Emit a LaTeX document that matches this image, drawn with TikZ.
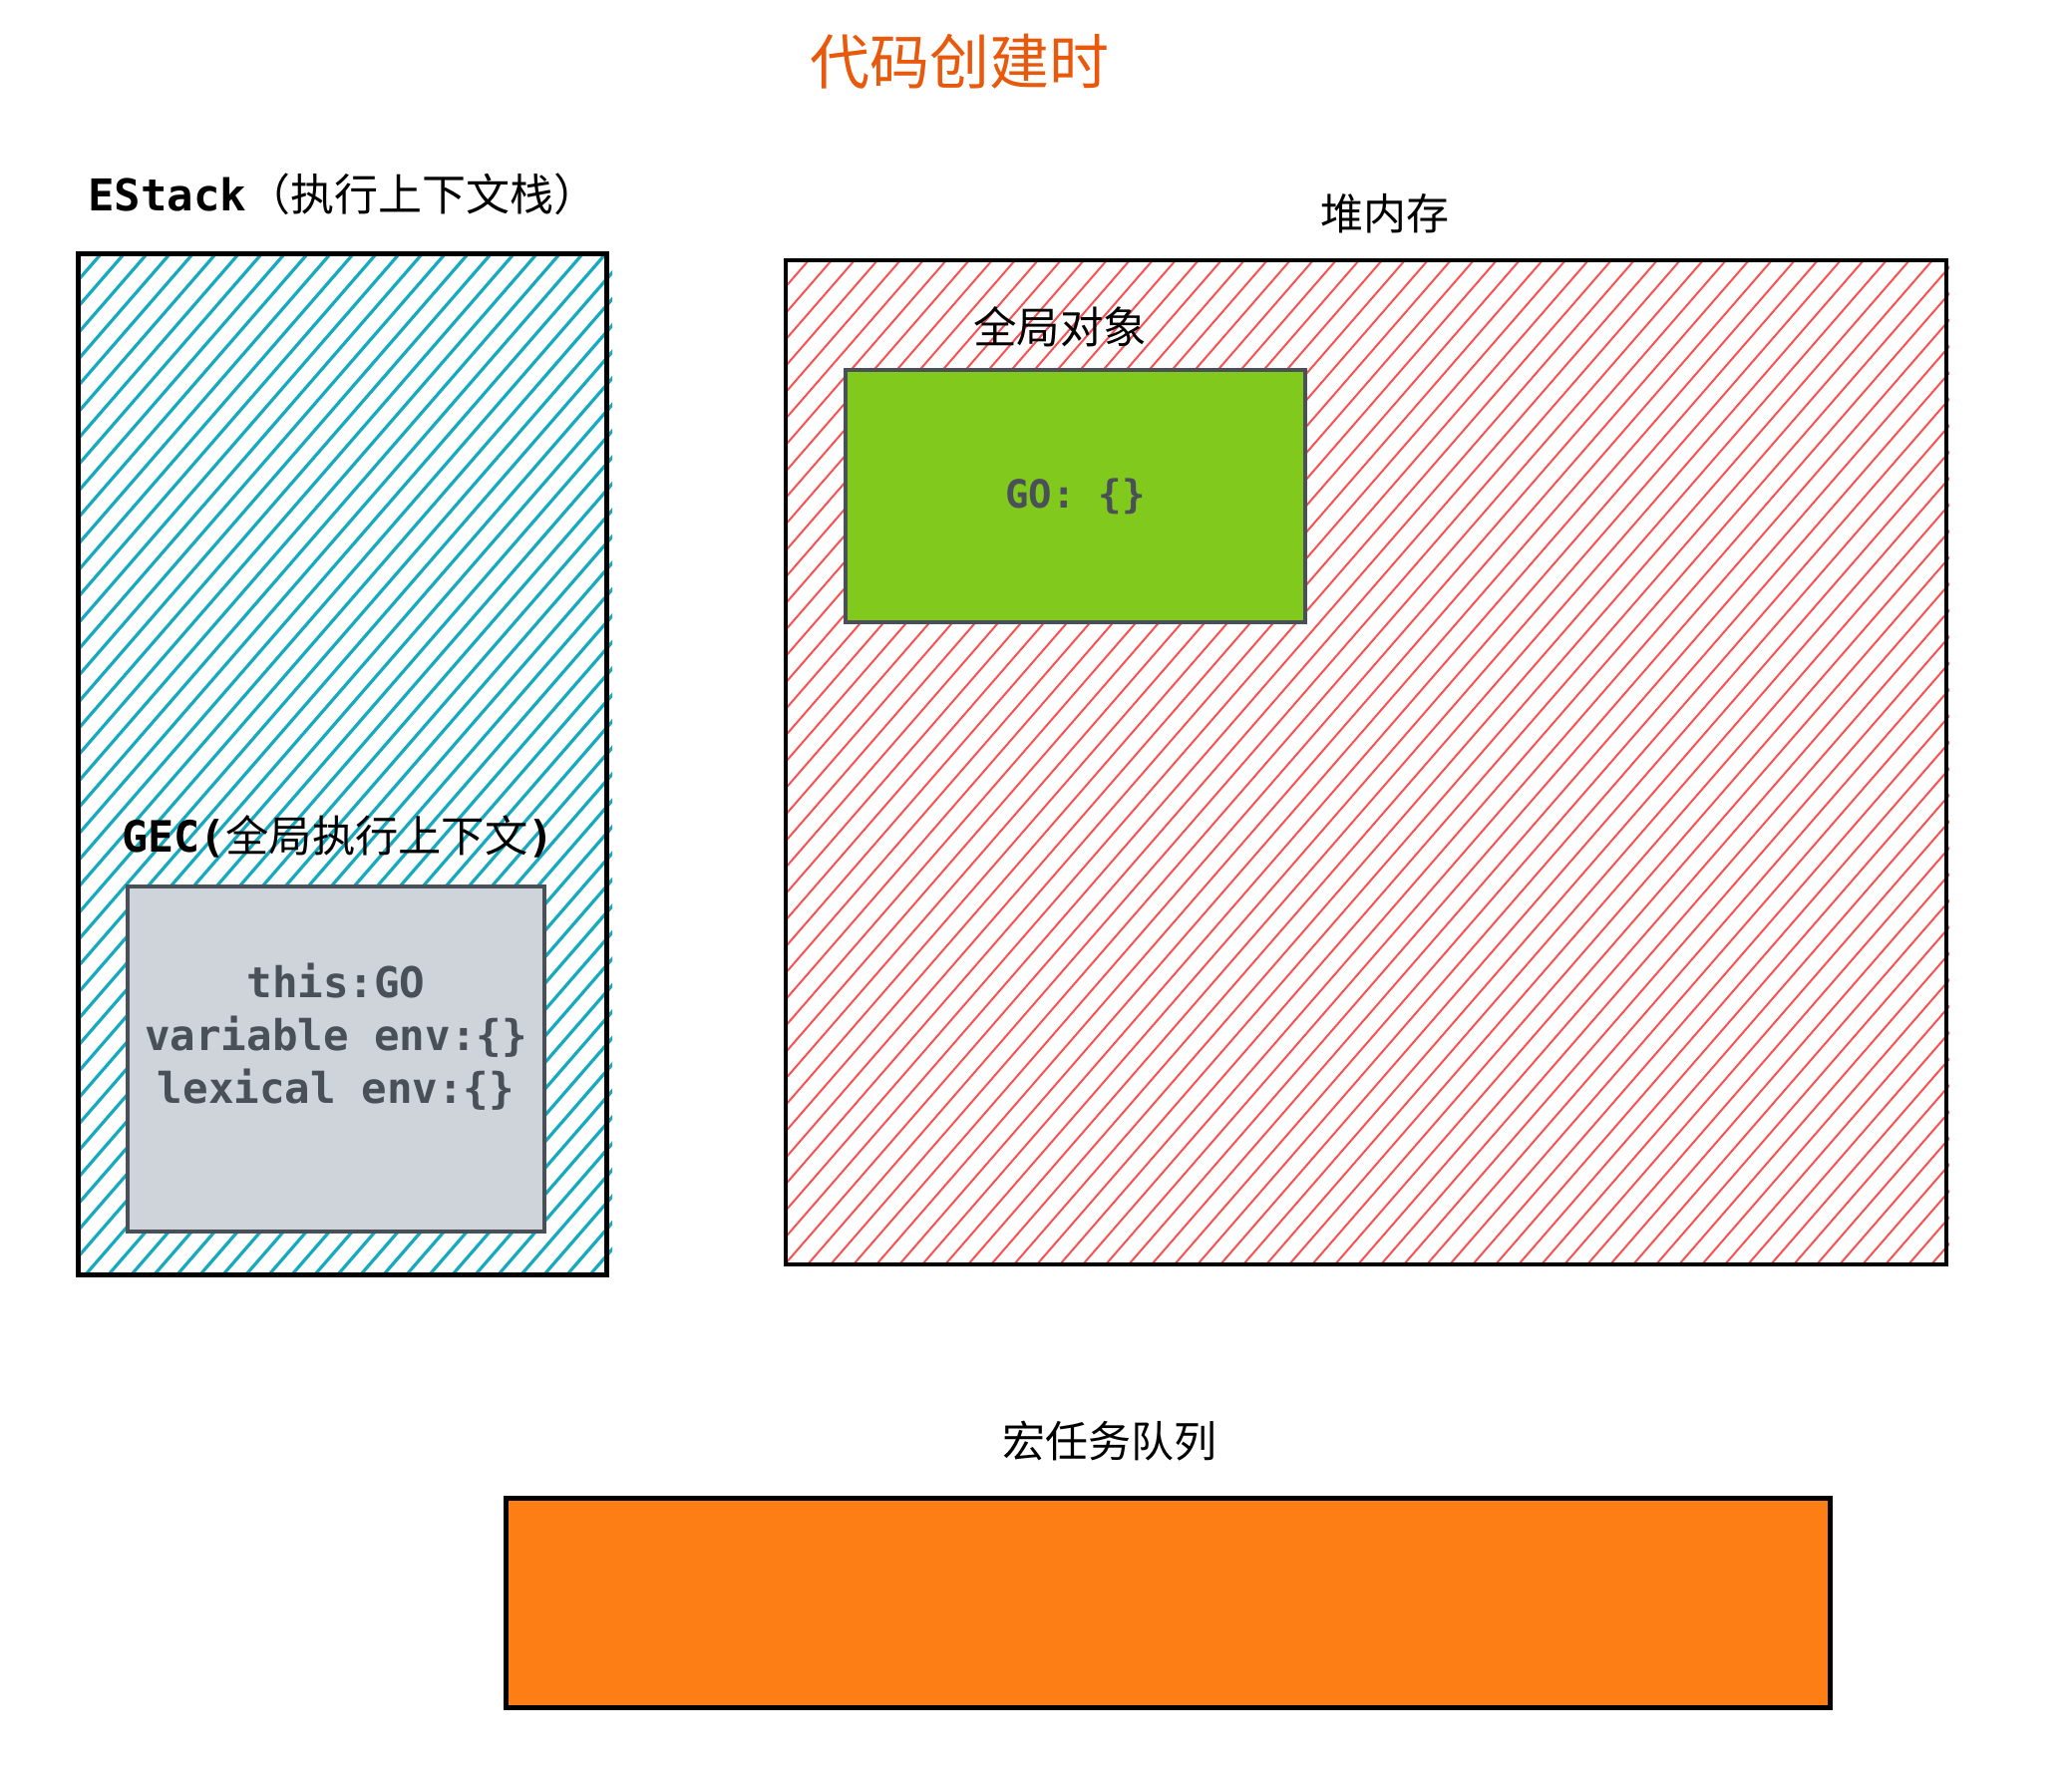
\documentclass[tikz,border=0pt]{standalone}
\usepackage{fontspec}
\setmainfont{Noto Sans CJK SC}
\newfontfamily\cjk{Noto Sans CJK SC}
\newfontfamily\monof{DejaVu Sans Mono}
\definecolor{ttlc}{HTML}{E8590C}
\definecolor{cyanh}{HTML}{15AABF}
\definecolor{redh}{HTML}{FA5252}
\definecolor{greenf}{HTML}{82C91E}
\definecolor{grayf}{HTML}{CED4DA}
\definecolor{darkg}{HTML}{495057}
\definecolor{orangef}{HTML}{FD7E14}
\tikzset{
  lbl/.style={inner sep=0pt, text=black},
  outerbox/.style={draw=black, rectangle, inner sep=0pt},
  innerbox/.style={draw=darkg, line width=3.5pt, rectangle, inner sep=0pt},
  cyanline/.style={draw=cyanh, line width=3.2pt},
  redline/.style={draw=redh, line width=2pt},
}
\begin{document}
\begin{tikzpicture}[x=1pt,y=-1pt]
\useasboundingbox (0,0) rectangle (2078,1776);
% hatching
\begin{scope}
  \clip (77,252) rectangle (614,1288);
  \foreach \k in {0,...,63} {
    \draw[cyanline] (78-889+\k*23,1278) -- (78+\k*23,255);
  }
\end{scope}
\begin{scope}
  \clip (788,261) rectangle (1955,1276);
  \foreach \k in {0,...,91} {
    \draw[redline] (788-875+\k*23,1268) -- (788+\k*23,261);
  }
\end{scope}
% boxes
\node[outerbox, line width=5pt, minimum width=530pt, minimum height=1023pt] (estack) at (343,766.5) {};
\node[outerbox, line width=3.5pt, minimum width=1164pt, minimum height=1007pt] (heap) at (1370,764.5) {};
\node[innerbox, fill=greenf, minimum width=461pt, minimum height=253pt, text=darkg,
      font=\monof\bfseries\fontsize{39}{46}\selectfont] (go) at (1078.5,497.5) {GO: \{\}};
\node[innerbox, fill=grayf, minimum width=418pt, minimum height=346pt] (gec) at (337,1062) {};
\node[outerbox, line width=5pt, fill=orangef, minimum width=1328pt, minimum height=210pt] (queue) at (1171,1607) {};
% texts
\node[lbl, text=darkg, align=center, font=\monof\bfseries\fontsize{42.5}{53}\selectfont] (gectext) at (337,1040)
  {this:GO\\variable env:\{\}\\lexical env:\{\}};
\node[lbl, text=ttlc, font=\cjk\fontsize{60}{72}\selectfont] (title) at (962,62) {代码创建时};
\node[lbl, anchor=west, font=\fontsize{44}{52}\selectfont] (estacklbl) at (88,195) {{\monof\bfseries EStack}（执行上下文栈）};
\node[lbl, font=\cjk\fontsize{43}{52}\selectfont] (heaplbl) at (1389,214) {堆内存};
\node[lbl, font=\cjk\fontsize{43.5}{52}\selectfont] (golbl) at (1063,328) {全局对象};
\node[lbl, anchor=west, font=\fontsize{43.3}{50}\selectfont] (geclbl) at (122,839) {{\monof\bfseries GEC(}全局执行上下文{\monof\bfseries )}};
\node[lbl, font=\cjk\fontsize{43}{52}\selectfont] (queuelbl) at (1113,1445) {宏任务队列};
\end{tikzpicture}
\end{document}
